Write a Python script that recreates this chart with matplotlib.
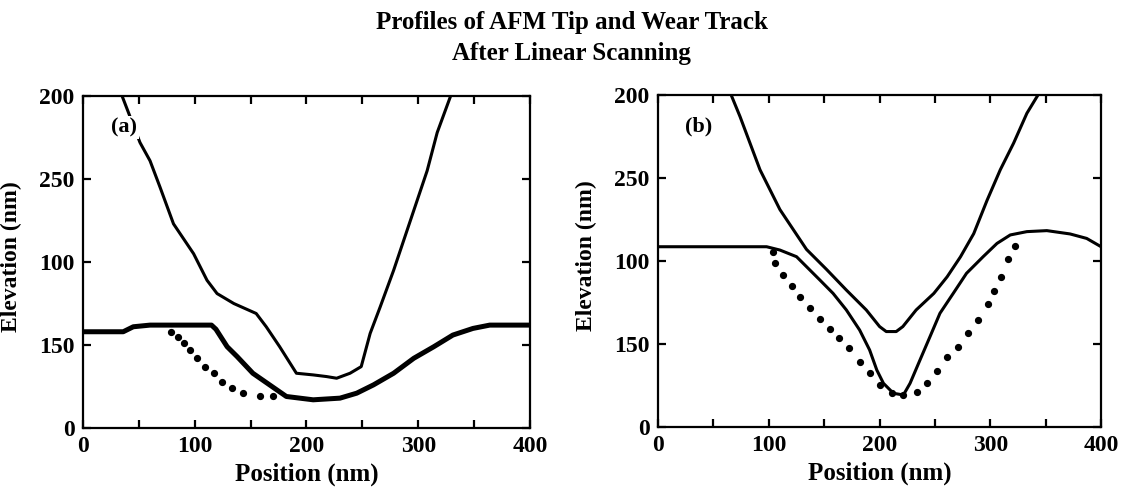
import matplotlib
matplotlib.use("Agg")
import matplotlib.pyplot as plt

plt.rcParams['font.family'] = ['Liberation Serif', 'DejaVu Serif']
plt.rcParams['font.weight'] = 'bold'

# panel (a) - tip profile
tip_a_x = [35, 51, 60, 69, 81, 99, 111, 120, 135, 155, 164, 176, 191, 206, 218, 227, 239, 249, 257, 266, 278, 293, 308, 317, 329]
tip_a_y = [200, 172, 161, 145, 123, 105, 89, 81, 75, 69, 61, 49, 33, 32, 31, 30, 33, 37, 57, 73, 95, 125, 155, 178, 200]

# panel (a) - wear track
wear_a_x = [0, 36, 45, 60, 115, 119, 129, 138, 152, 167, 182, 206, 230, 245, 260, 278, 296, 314, 331, 349, 364, 400]
wear_a_y = [58, 58, 61, 62, 62, 59.5, 49, 43, 33, 26, 19, 17, 18, 21, 26, 33, 42, 49, 56, 60, 62, 62]

# panel (a) - dotted profile
dot_a_x = [79, 85, 90, 96, 102, 109, 117, 124, 133, 143, 158, 170]
dot_a_y = [58, 55, 51, 47, 42, 37, 33, 28, 24, 21, 19, 19]

# panel (b) - tip profile
tip_b_x = [66, 74, 83, 92, 101, 110, 122, 134, 152, 170, 188, 200, 206, 215, 221, 233, 249, 261, 273, 285, 297, 309, 321, 333, 343]
tip_b_y = [200, 187, 171, 155, 143, 131, 119, 107, 95, 82.5, 70.5, 60.5, 57.5, 57.5, 60.5, 70.5, 80.5, 90.5, 102.5, 116.5, 136.5, 155, 171, 189, 200]

# panel (b) - wear track
wear_b_x = [0, 98, 110, 125, 134, 146, 158, 170, 182, 191, 197.5, 203.5, 212.5, 221.5, 227.5, 236.5, 245.5, 254.5, 266.5, 278.5, 293.5, 306, 318, 333, 351, 372, 387, 400]
wear_b_y = [108.6, 108.6, 106.6, 102.6, 96.6, 88.6, 80.5, 70.5, 58.4, 46.4, 34.3, 26.3, 20.3, 19.3, 26.3, 40.4, 54.4, 68.5, 80.5, 92.6, 102.6, 110.6, 115.7, 117.7, 118.3, 116.3, 113.6, 108.6]

# panel (b) - dotted profile
dot_b_x = [104, 105.6, 113, 121, 128, 137, 146, 155, 163, 172, 182, 191, 200.5, 211, 221.5, 233.5, 242.5, 251.5, 260.5, 271, 280, 289, 298, 303, 310, 316, 322]
dot_b_y = [105.6, 99, 91.6, 85.1, 78.1, 71.5, 64.9, 58.8, 53.4, 47.4, 39.3, 32.3, 25.3, 20.3, 19.3, 20.9, 26.3, 33.7, 42, 48.4, 56.4, 64.5, 74.1, 82.1, 90.5, 101, 109.2]

ytick_pos = [0, 50, 100, 150, 200]
ytick_labels = ['0', '150', '100', '250', '200']
xtick_major = [0, 100, 200, 300, 400]
xtick_minor = [50, 150, 250, 350]

fig = plt.figure(figsize=(11.23, 4.87), dpi=100)
ax_a = fig.add_axes([0.0739, 0.1211, 0.398, 0.6817])
ax_b = fig.add_axes([0.586, 0.1232, 0.3945, 0.6817])

fig.text(0.509, 0.922, 'Profiles of AFM Tip and Wear Track\nAfter Linear Scanning',
         ha='center', va='center', fontsize=18, fontweight='bold', linespacing=1.4)

ax_a.plot(tip_a_x, tip_a_y, color='black', lw=2.2, zorder=3)
ax_a.plot(wear_a_x, wear_a_y, color='black', lw=3.6, zorder=3)
ax_a.plot(dot_a_x, dot_a_y, 'o', color='black', ms=4.2, zorder=2)

ax_b.plot(tip_b_x, tip_b_y, color='black', lw=2.2, zorder=3)
ax_b.plot(wear_b_x, wear_b_y, color='black', lw=2.2, zorder=3)
ax_b.plot(dot_b_x, dot_b_y, 'o', color='black', ms=4.2, zorder=2)

for ax, tag in [(ax_a, '(a)'), (ax_b, '(b)')]:
    ax.set_xlim(0, 400)
    ax.set_ylim(0, 200)
    ax.set_xticks(xtick_major)
    ax.set_xticks(xtick_minor, minor=True)
    ax.set_yticks(ytick_pos)
    ax.set_yticklabels(ytick_labels)
    ax.tick_params(which='both', direction='in', top=True, right=True,
                   length=6, width=1.6, labelsize=17, pad=6)
    for lab in ax.get_xticklabels() + ax.get_yticklabels():
        lab.set_fontweight('bold')
    for sp in ax.spines.values():
        sp.set_linewidth(1.6)
    ax.set_xlabel('Position (nm)', fontsize=18, fontweight='bold', labelpad=4)
    ax.set_ylabel('Elevation (nm)', fontsize=17, fontweight='bold')
    ax.yaxis.set_label_coords(-0.137, 0.515)
    ax.text(37, 181, tag, fontsize=16, fontweight='bold', ha='center', va='center',
            zorder=4, bbox=dict(facecolor='white', edgecolor='none', pad=1))

fig.savefig('out.png', dpi=100)
